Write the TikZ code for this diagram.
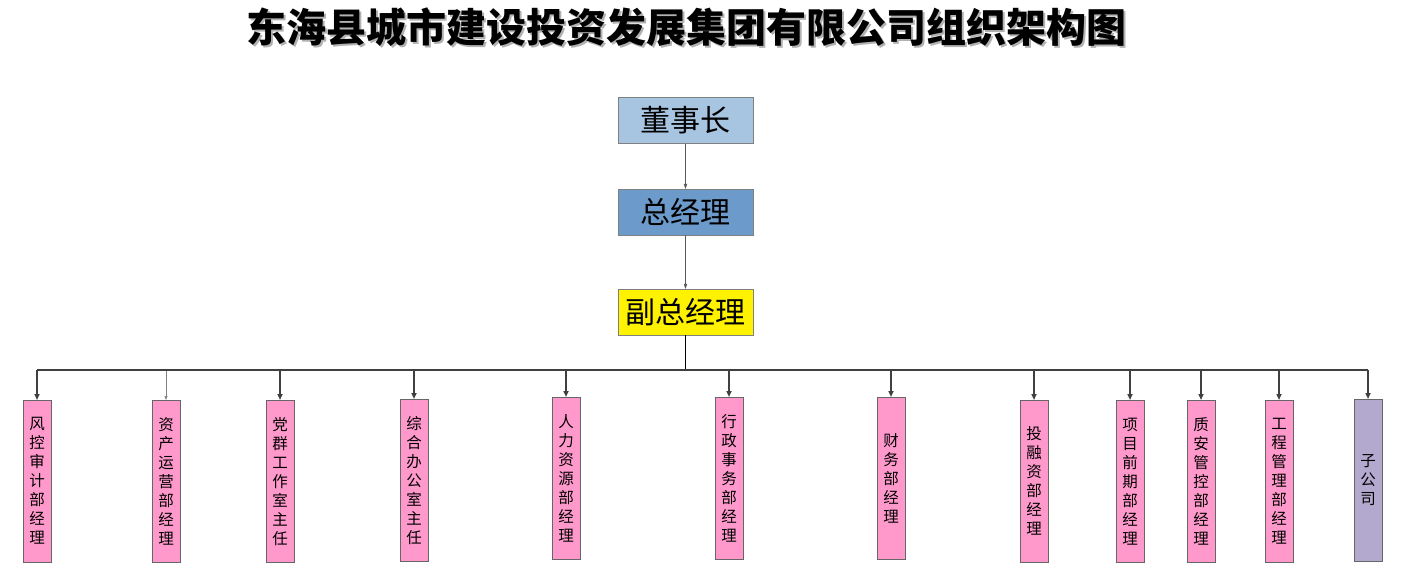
\documentclass[tikz,border=0pt]{standalone}
\usepackage{fontspec}
\setmainfont{Noto Sans CJK SC}
\usepackage{xcolor}
\usetikzlibrary{positioning, arrows.meta}

\definecolor{boardblue}{HTML}{A7C4E0}
\definecolor{gmblue}{HTML}{6C9BCB}
\definecolor{deptpink}{HTML}{FF99CC}
\definecolor{subpurple}{HTML}{B3A9CF}
\definecolor{linegray}{HTML}{404040}

% text with a soft drop shadow, set as one box
\newcommand{\shadowtitle}[1]{\rlap{\kern2.5pt\raisebox{-2.5pt}{\textcolor{gray!60}{#1}}}#1}

\begin{document}
\begin{tikzpicture}[x=1pt, y=-1pt,
    topbox/.style={draw=gray, inner sep=0pt, minimum width=135pt, minimum height=46pt,
      font=\fontsize{30}{30}\selectfont},
    deptbox/.style={draw=gray!80!black, fill=deptpink, anchor=north, inner sep=0pt,
      minimum width=28pt, minimum height=162pt, align=center,
      font=\fontsize{15.5}{19}\selectfont},
    link/.style={gray!70!black, thin, -{Triangle[length=5pt,width=3.5pt]}},
    drop/.style={linegray, line width=1.5pt, -{Triangle[length=6pt,width=5pt]}},
    thindrop/.style={gray, line width=0.6pt, -{Triangle[length=4pt,width=3pt]}}]
    \useasboundingbox (0,0) rectangle (1408,568);
    % title
    \node[font=\fontsize{40}{40}\selectfont\bfseries] (title) at (686,28) {\shadowtitle{东海县城市建设投资发展集团有限公司组织架构图}};
    % top of the chart
    \node[topbox, fill=boardblue] (dsz) at (685.5,120.5) {董事长};
    \node[topbox, fill=gmblue] (zjl) at (685.5,212) {总经理};
    \node[topbox, fill=yellow] (fzjl) at (685.5,312) {副总经理};
    \draw[link] (dsz) -- (zjl);
    \draw[link] (zjl) -- (fzjl);
    \coordinate (bus) at (685.5,370);
    \draw[black, line width=1.2pt] (fzjl) -- (bus);
    % departments
    \foreach \i/\x/\y/\s/\lbl in {1/37/400/drop/{风\\控\\审\\计\\部\\经\\理},
        2/166/400/thindrop/{资\\产\\运\\营\\部\\经\\理},
        3/280/400/drop/{党\\群\\工\\作\\室\\主\\任},
        4/414/399/drop/{综\\合\\办\\公\\室\\主\\任},
        5/566/397/drop/{人\\力\\资\\源\\部\\经\\理},
        6/729/397/drop/{行\\政\\事\\务\\部\\经\\理},
        7/891/397/drop/{财\\务\\部\\经\\理},
        8/1034/400/drop/{投\\融\\资\\部\\经\\理},
        9/1130/400/drop/{项\\目\\前\\期\\部\\经\\理},
        10/1201/400/drop/{质\\安\\管\\控\\部\\经\\理},
        11/1279/400/drop/{工\\程\\管\\理\\部\\经\\理}}{
        \node[deptbox] (d\i) at (\x,\y) {\lbl};
        \draw[\s] (d\i.north |- bus) -- (d\i.north);
    }
    \node[deptbox, fill=subpurple] (d12) at (1368,399) {子\\公\\司};
    \draw[drop] (d12.north |- bus) -- (d12.north);
    \draw[linegray, line width=2pt] (d1.north |- bus) -- (d12.north |- bus);
\end{tikzpicture}
\end{document}
